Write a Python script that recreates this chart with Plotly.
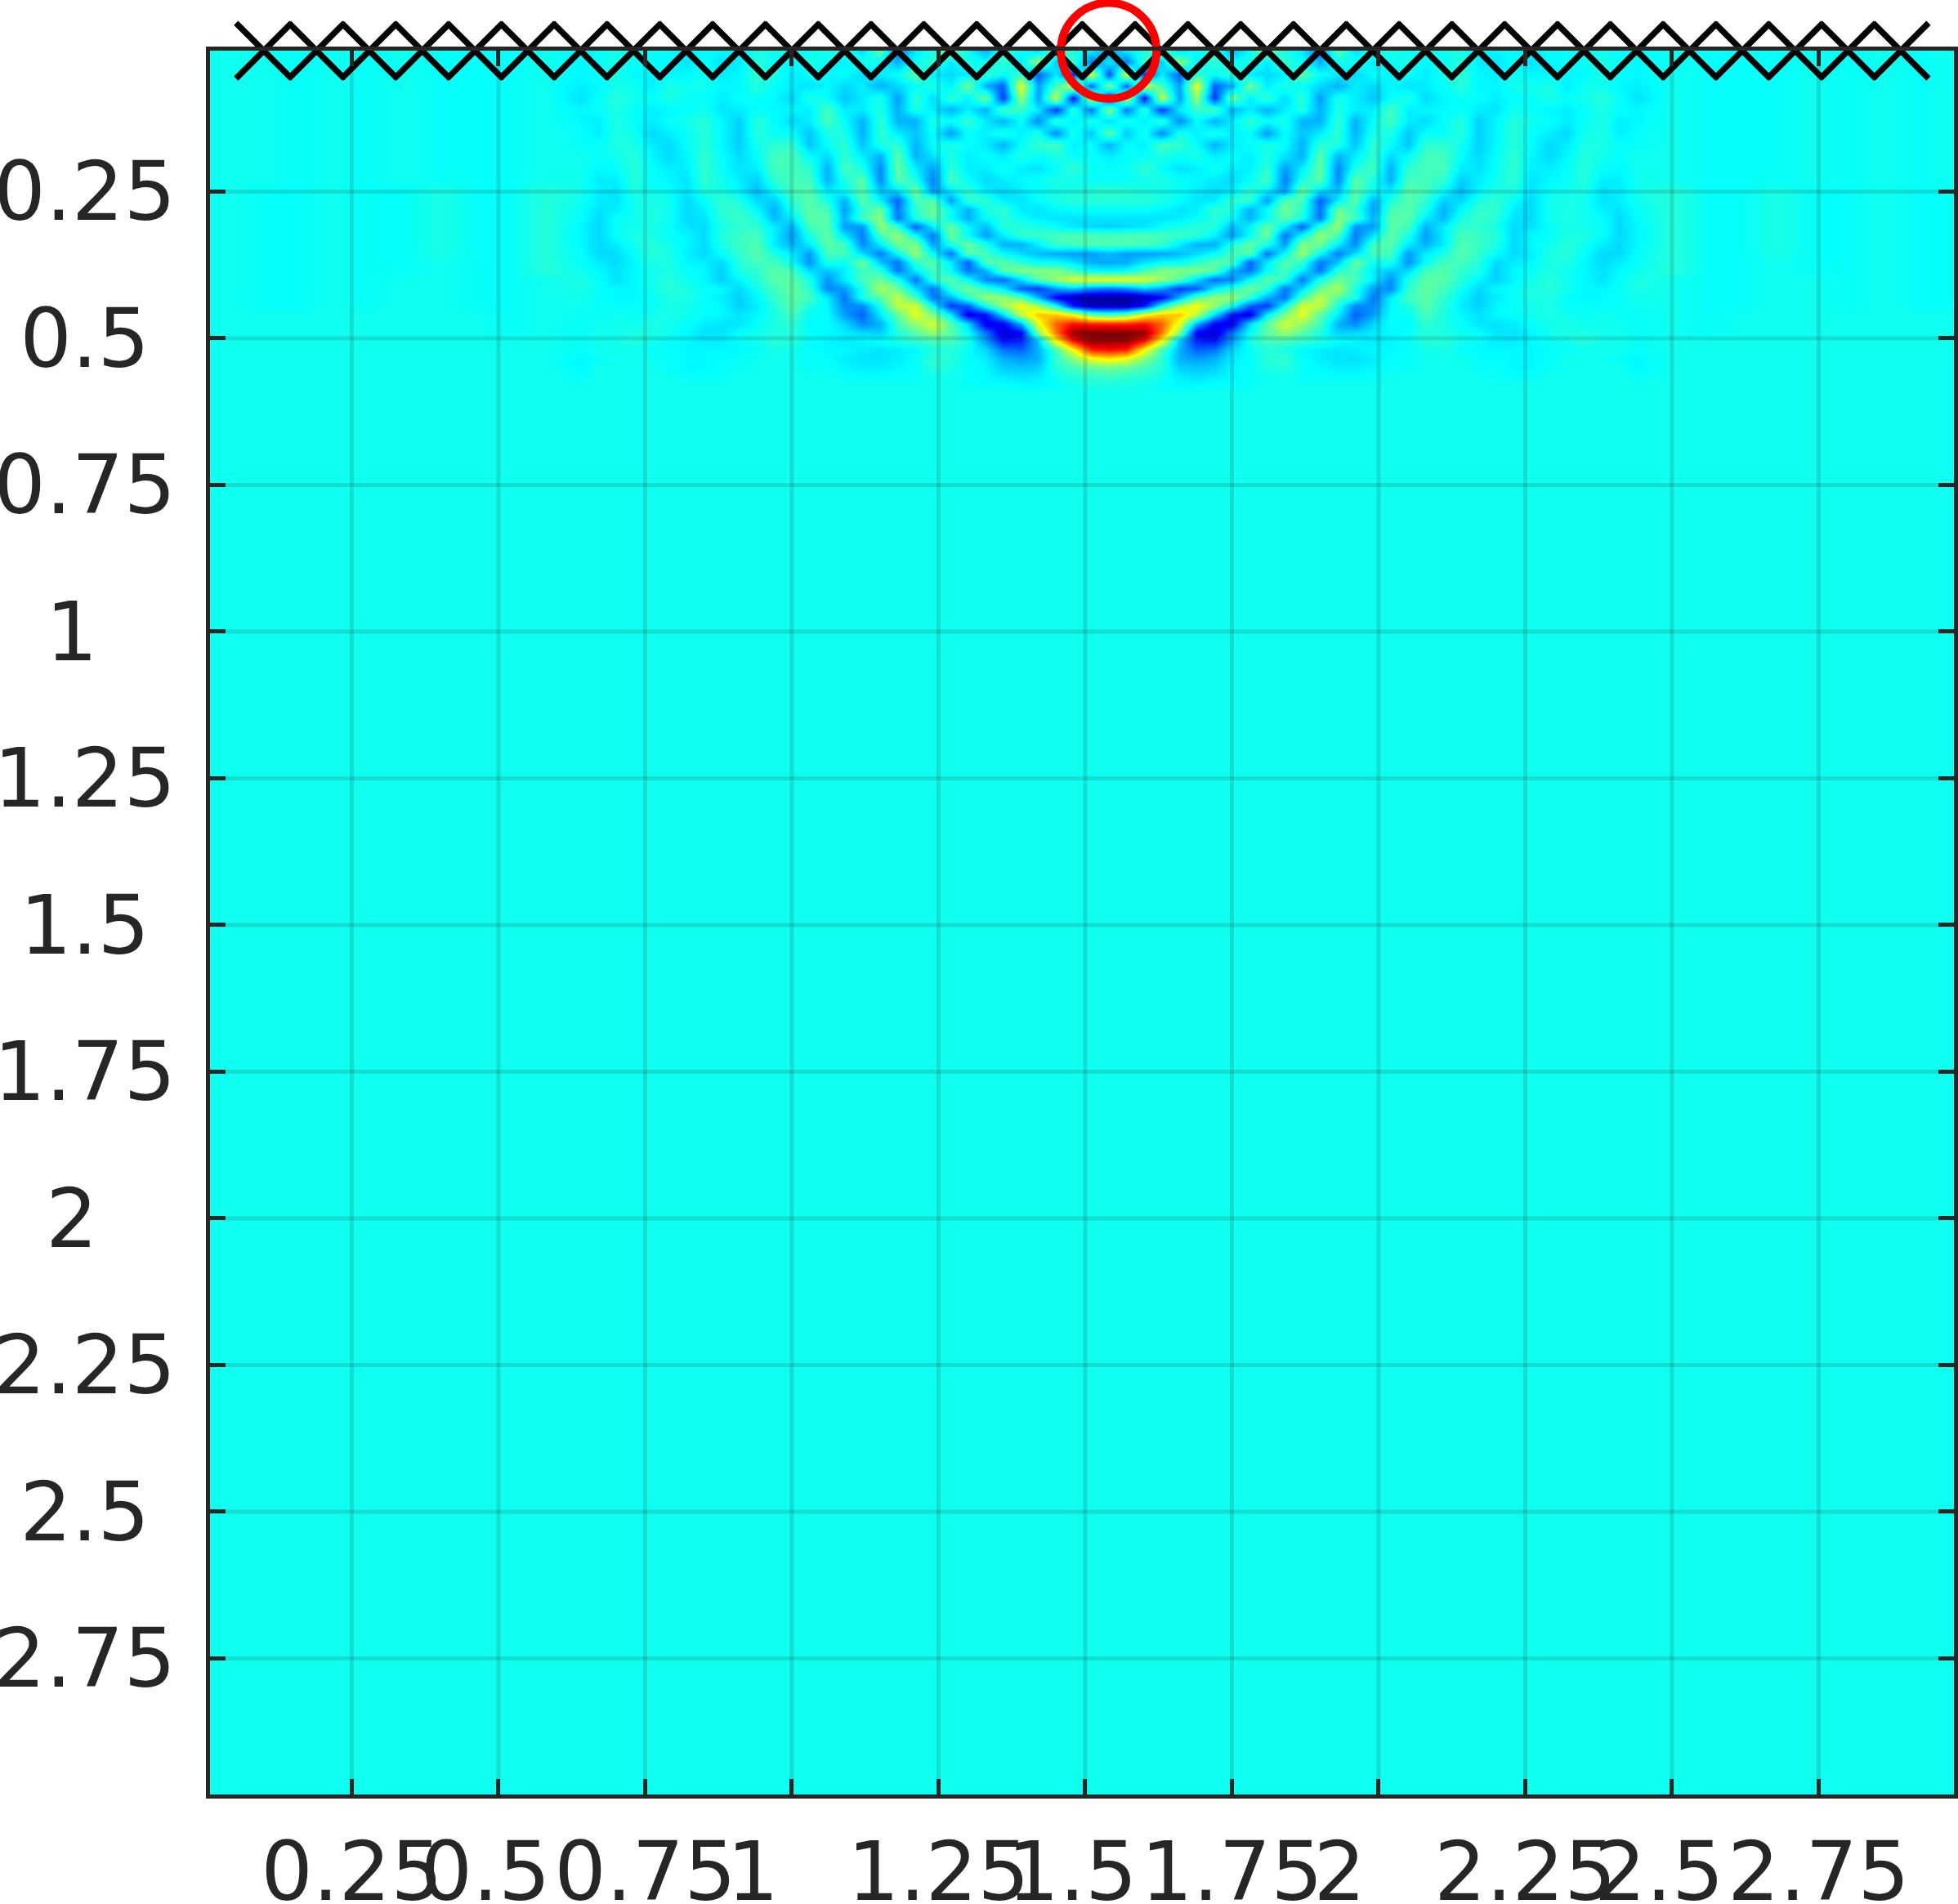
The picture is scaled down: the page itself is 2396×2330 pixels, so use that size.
import plotly.graph_objects as go

# Wavefield snapshot, stored as colour-scale position (0-100) per sample.
# Columns run from the source outwards to the left edge; the field is mirrored about the source.
source_x = 1.54
source_y = 0.01
receiver_x = [0.10 + 0.09 * i for i in range(32)]
receiver_y = [0.01] * 32

column_offset = [0.03 * k for k in range(31)] + [0.90 + 0.06 * k for k in range(1, 11)]
row_depth = [0.01 + 0.02 * i for i in range(12)] + [0.25 + 0.015 * i for i in range(24)]

far_top = [39, 38, 38, 38, 39, 38, 39, 38, 39, 39]
far_mid = [41, 38, 38, 40, 38, 38, 39, 38, 38, 39]
far_low = [41, 38, 38, 39, 38, 38, 39, 38, 38, 39]
far_bot = [39, 38, 38, 39, 39, 38, 39, 38, 38, 39]
far_end = [39, 38, 39, 39, 39, 39, 39, 39, 39, 39]
far_bg = [39] * 10

shallow_rows = [
    [28, 36, 40, 48, 34, 38, 42, 30, 38, 50, 40, 36, 24, 46, 34, 42, 40, 38, 38, 39, 40, 36, 37, 38, 36, 38, 38, 38, 39, 38, 37] + far_top,
    [36, 24, 44, 32, 52, 36, 42, 38, 40, 36, 42, 38, 30, 38, 40, 36, 38, 40, 37, 38, 41, 36, 35, 38, 35, 37, 38, 38, 40, 38, 37] + far_top,
    [20, 58, 16, 36, 22, 42, 38, 42, 36, 34, 36, 46, 38, 36, 34, 38, 37, 38, 36, 40, 42, 37, 36, 39, 37, 37, 37, 37, 40, 38, 37] + far_top,
    [50, 22, 58, 44, 28, 60, 22, 30, 48, 36, 40, 38, 34, 30, 36, 34, 37, 35, 36, 38, 41, 37, 37, 39, 39, 40, 36, 39, 39, 37, 36] + far_top,
    [14, 56, 14, 56, 28, 52, 18, 48, 36, 42, 34, 42, 28, 40, 36, 32, 38, 40, 34, 37, 38, 38, 36, 38, 38, 40, 38, 39, 41, 38, 35] + far_top,
    [50, 24, 42, 18, 36, 42, 44, 30, 36, 30, 36, 40, 30, 40, 36, 36, 44, 36, 37, 37, 38, 36, 35, 39, 38, 37, 36, 38, 40, 38, 37] + far_top,
    [34, 40, 36, 42, 26, 38, 30, 36, 42, 38, 40, 30, 30, 42, 30, 38, 44, 36, 34, 38, 41, 33, 37, 41, 39, 38, 36, 38, 40, 36, 37] + far_top,
    [46, 32, 40, 26, 40, 36, 40, 36, 38, 28, 38, 32, 36, 42, 30, 40, 40, 32, 38, 38, 41, 33, 37, 41, 38, 36, 34, 39, 40, 36, 38] + far_top,
    [30, 38, 36, 44, 42, 38, 30, 36, 38, 40, 38, 30, 42, 40, 32, 42, 38, 32, 42, 42, 39, 33, 37, 41, 38, 34, 36, 40, 40, 38, 38] + far_top,
    [36, 38, 38, 40, 38, 40, 36, 38, 36, 40, 35, 30, 46, 30, 36, 42, 34, 38, 44, 44, 38, 34, 38, 42, 37, 34, 37, 41, 39, 38, 39] + far_top,
    [38, 38, 42, 38, 35, 36, 39, 36, 36, 42, 28, 36, 47, 26, 40, 44, 30, 42, 44, 44, 36, 35, 38, 42, 36, 36, 38, 41, 38, 37, 39] + far_top,
    [38, 38, 39, 40, 38, 37, 36, 34, 38, 44, 25, 40, 46, 26, 46, 40, 30, 44, 44, 42, 33, 36, 39, 42, 35, 37, 38, 41, 36, 36, 39] + far_top,
]

band_rows = [
    [42, 41, 40, 39, 38, 36, 34, 36, 42, 36, 28, 48, 34, 32, 46, 38, 36, 46, 44, 38, 31, 37, 40, 40, 35, 38, 39, 40, 35, 36, 39] + far_mid,
    [41, 41, 41, 40, 38, 35, 36, 42, 42, 28, 46, 44, 22, 36, 46, 30, 40, 46, 42, 33, 34, 40, 42, 38, 34, 39, 40, 39, 35, 36, 39] + far_mid,
    [38, 38, 38, 37, 35, 36, 42, 40, 30, 38, 48, 42, 24, 48, 42, 28, 44, 46, 40, 30, 37, 42, 42, 36, 34, 39, 40, 39, 36, 35, 38] + far_mid,
    [35, 35, 35, 35, 36, 38, 41, 38, 30, 38, 46, 40, 24, 50, 44, 30, 46, 46, 36, 31, 40, 43, 41, 35, 34, 39, 40, 39, 38, 34, 38] + far_mid,
    [33, 34, 35, 38, 40, 41, 41, 31, 37, 47, 36, 22, 42, 52, 27, 28, 46, 44, 30, 36, 42, 42, 40, 34, 35, 38, 40, 39, 38, 34, 37] + far_mid,
    [44, 45, 45, 44, 43, 42, 36, 28, 38, 48, 24, 38, 52, 44, 25, 35, 47, 40, 28, 36, 44, 43, 41, 34, 37, 38, 40, 40, 38, 34, 37] + far_mid,
    [45, 45, 44, 43, 36, 30, 30, 40, 47, 40, 28, 50, 48, 36, 26, 44, 46, 36, 30, 36, 45, 43, 40, 34, 37, 39, 41, 39, 36, 34, 37] + far_mid,
    [31, 28, 28, 29, 31, 34, 38, 44, 46, 24, 38, 52, 38, 25, 34, 44, 44, 28, 36, 40, 46, 42, 38, 34, 36, 40, 41, 38, 34, 34, 38] + far_mid,
    [29, 30, 35, 38, 38, 42, 46, 45, 22, 36, 46, 42, 24, 32, 48, 38, 40, 27, 38, 44, 44, 41, 34, 36, 37, 40, 40, 37, 34, 36, 38] + far_low,
    [37, 38, 44, 50, 50, 50, 46, 30, 24, 38, 44, 36, 24, 42, 44, 36, 32, 34, 44, 46, 42, 40, 33, 37, 38, 40, 39, 37, 35, 37, 39] + far_low,
    [60, 60, 58, 52, 46, 34, 23, 26, 38, 46, 42, 24, 40, 48, 44, 36, 27, 40, 46, 46, 41, 37, 33, 37, 39, 41, 39, 37, 35, 38, 40] + far_bot,
    [24, 26, 32, 28, 18, 22, 36, 42, 48, 42, 24, 34, 48, 54, 40, 28, 26, 42, 47, 44, 39, 34, 37, 38, 40, 41, 39, 37, 37, 38, 40] + far_bot,
    [3, 3, 6, 12, 30, 46, 52, 52, 42, 30, 24, 44, 56, 46, 40, 24, 36, 44, 46, 42, 37, 33, 36, 38, 40, 40, 38, 37, 37, 38, 39] + far_bot,
    [6, 6, 14, 38, 54, 62, 52, 40, 22, 18, 38, 58, 56, 40, 26, 26, 37, 40, 46, 41, 36, 33, 37, 38, 39, 40, 38, 38, 38, 38, 39] + far_bot,
    [44, 48, 62, 68, 68, 56, 34, 14, 10, 36, 50, 60, 46, 36, 22, 28, 38, 38, 44, 40, 37, 35, 37, 38, 39, 40, 39, 38, 39, 38, 38] + far_end,
    [84, 84, 86, 78, 60, 30, 12, 10, 34, 46, 58, 52, 44, 30, 26, 34, 38, 37, 42, 40, 38, 35, 35, 36, 38, 39, 40, 39, 39, 39, 38] + far_end,
    [100, 100, 98, 76, 50, 12, 8, 24, 38, 46, 52, 46, 40, 33, 34, 36, 37, 38, 41, 40, 39, 38, 35, 35, 37, 39, 40, 40, 39, 39, 38] + far_end,
    [98, 98, 86, 62, 32, 16, 14, 28, 40, 44, 44, 42, 40, 38, 37, 36, 37, 38, 41, 41, 39, 38, 36, 36, 37, 38, 39, 41, 39, 39, 38] + far_bg,
    [86, 84, 62, 44, 30, 22, 24, 34, 38, 41, 40, 37, 36, 35, 36, 37, 37, 38, 39, 40, 38, 37, 37, 37, 37, 38, 38, 39, 39, 39, 38] + far_bg,
    [64, 60, 50, 42, 30, 28, 30, 36, 38, 41, 42, 38, 36, 35, 35, 36, 38, 38, 39, 39, 39, 38, 38, 37, 37, 38, 39, 39, 39, 38, 37] + far_bg,
    [48, 47, 44, 41, 33, 32, 33, 37, 38, 40, 41, 38, 37, 36, 36, 37, 38, 38, 39, 39, 39, 38, 38, 37, 37, 38, 39, 39, 39, 39, 37] + far_bg,
    [43, 42, 41, 39, 36, 35, 36, 37, 38, 39, 39, 38, 38, 38, 38, 38, 39, 39, 39, 39, 39, 39, 38, 38, 38, 39, 39, 39, 39, 39, 38] + far_bg,
    [40, 40, 39, 38, 37, 37, 38, 38, 38, 39, 39, 39, 39, 39, 39, 39, 39, 39, 39, 39, 39, 39, 39, 39, 39, 39, 39, 39, 39, 39, 39] + far_bg,
    [39] * 41,
]

quiet_depth = [0.62, 3.02]
quiet_rows = [[39] * 41, [39] * 41]

tick_vals = [0.25, 0.5, 0.75, 1, 1.25, 1.5, 1.75, 2, 2.25, 2.5, 2.75]
nbsp = "\u00a0"
tick_text = ["0.25", "0.5" + nbsp, "0.75", "1" + nbsp * 3, "1.25", "1.5" + nbsp,
             "1.75", "2" + nbsp * 3, "2.25", "2.5" + nbsp, "2.75"]

# Mirror each row about the source column.
rows = shallow_rows + band_rows + quiet_rows
depth = row_depth + quiet_depth
x_cells = [source_x - d for d in reversed(column_offset)] + [source_x + d for d in column_offset[1:]]
z_cells = [list(reversed(r)) + r[1:] for r in rows]

jet = [
    [0.0, "#00007f"], [0.125, "#0000ff"], [0.375, "#00ffff"],
    [0.625, "#ffff00"], [0.875, "#ff0000"], [1.0, "#7f0000"],
]

x_range = [0.0084, 2.9806]
y_range = [2.982, 0.0099]

fig = go.Figure()
fig.add_trace(go.Heatmap(x=x_cells, y=depth, z=z_cells, zmin=0, zmax=100, zsmooth="best",
                         colorscale=jet, showscale=False, hoverinfo="skip"))

# Grid sits above the field, so it is drawn as line traces rather than axis grid.
grid_x, grid_y = [], []
for t in tick_vals:
    grid_x += [t, t, None, x_range[0], x_range[1], None]
    grid_y += [y_range[0], y_range[1], None, t, t, None]
fig.add_trace(go.Scatter(x=grid_x, y=grid_y, mode="lines", hoverinfo="skip",
                         line=dict(color="rgba(38,38,38,0.15)", width=5)))

fig.add_trace(go.Scatter(x=receiver_x, y=receiver_y, mode="markers", cliponaxis=False,
                         marker=dict(symbol="x-thin", size=68, color="black",
                                     line=dict(color="black", width=7.5))))
fig.add_trace(go.Scatter(x=[source_x], y=[source_y], mode="markers", cliponaxis=False,
                         marker=dict(symbol="circle-open", size=117, color="#ff0000",
                                     line=dict(color="#ff0000", width=10))))

axis_style = dict(
    tickmode="array", tickvals=tick_vals, ticktext=tick_text, ticks="inside", ticklen=19,
    tickwidth=5, tickcolor="#262626", showline=True, linewidth=5, linecolor="#262626",
    mirror="allticks", showgrid=False, zeroline=False, tickangle=0,
    tickfont=dict(family="DejaVu Sans", size=100, color="#262626"),
)
fig.update_layout(
    width=2396, height=2330, showlegend=False, paper_bgcolor="white", plot_bgcolor="#10ffef",
    margin=dict(l=257, r=5, t=62, b=134, autoexpand=False),
    xaxis=dict(range=x_range, ticklabelstandoff=4, **axis_style),
    yaxis=dict(range=y_range, ticklabelstandoff=17, **axis_style),
)
fig.write_html("out.html")
